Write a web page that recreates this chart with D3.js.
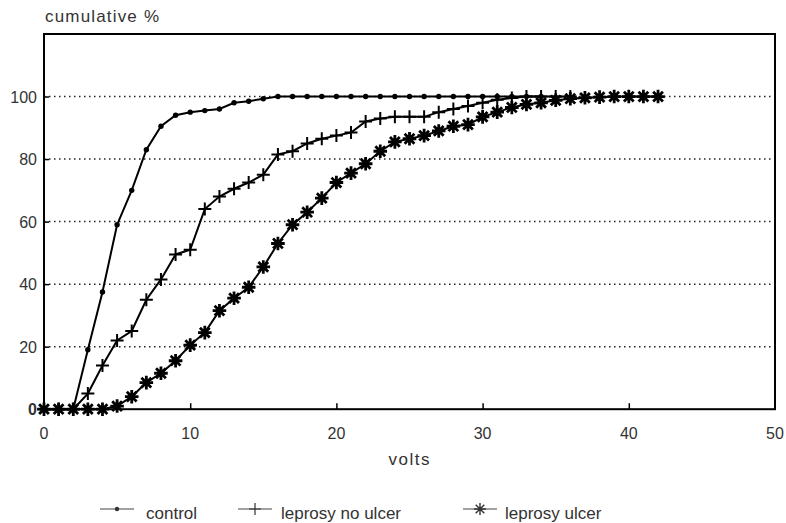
<!DOCTYPE html>
<html>
<head>
<meta charset="utf-8">
<script src="https://cdn.jsdelivr.net/npm/d3@7"></script>
<style>
  html, body { margin: 0; padding: 0; background: #fff; }
  svg text { font-family: "Liberation Sans", Arial, sans-serif; fill: #333; }
</style>
</head>
<body>
<svg id="chart" width="786" height="523"></svg>
<script>
// ---- data ----
const controlVolts = d3.range(0, 35);
const controlPct = [0,0,0,19,37.5,59,70,83,90.5,94,95,95.5,96,98,98.5,99.3,100,100,100,100,100,100,100,100,100,100,100,100,100,100,100,100,100,100,100];
const noUlcerVolts = d3.range(0, 37);
const noUlcerPct = [0,0,0,5,14,22,25,35,41.5,49.5,51,64,68,70.5,72.5,75,81.5,82.5,85,86.5,87.5,88.5,92,93,93.5,93.5,93.5,95,96,97,98,99,99.5,100,100,100,100];
const ulcerVolts = d3.range(0, 43);
const ulcerPct = [0,0,0,0,0,1,4,8.5,11.5,15.5,20.5,24.5,31.5,35.5,39,45.5,53,59,63,67.5,72.5,75.5,78.5,82.5,85.5,86.5,87.5,89,90.5,91,93.5,95,96.5,97.5,98,98.8,99.3,99.6,99.8,100,100,100,100];
const xTicks = [0,10,20,30,40,50];
const yTicks = [0,20,40,60,80,100];
const gridValues = [20,40,60,80,100];
const seriesNames = ["control","leprosy no ulcer","leprosy ulcer"];
const xLabel = "volts";
const yLabel = "cumulative %";

// ---- layout ----
const svg = d3.select("#chart");
const pLeft = 44, pRight = 775, pTop = 34, pBottom = 409.2;
const x = d3.scaleLinear().domain([0, 50]).range([pLeft, pRight]);
const y = d3.scaleLinear().domain([0, 120]).range([pBottom, pTop]);

// gridlines
svg.append("g").selectAll("line").data(gridValues).join("line")
  .attr("x1", pLeft).attr("x2", pRight)
  .attr("y1", d => y(d)).attr("y2", d => y(d))
  .attr("stroke", "#222").attr("stroke-width", 1.5)
  .attr("stroke-dasharray", "1.5,3.5");

// frame
svg.append("rect").attr("x", pLeft).attr("y", pTop)
  .attr("width", pRight - pLeft).attr("height", pBottom - pTop)
  .attr("fill", "none").attr("stroke", "#000").attr("stroke-width", 2);

// ticks (inward)
const xAxis = d3.axisTop(x).tickValues(xTicks.slice(1, -1)).tickSize(6).tickFormat("");
svg.append("g").attr("transform", `translate(0,${pBottom})`).call(xAxis)
  .call(g => g.select(".domain").remove())
  .call(g => g.selectAll("line").attr("stroke", "#000").attr("stroke-width", 1.5));
const yAxis = d3.axisRight(y).tickValues(gridValues).tickSize(5).tickFormat("");
svg.append("g").attr("transform", `translate(${pLeft},0)`).call(yAxis)
  .call(g => g.select(".domain").remove())
  .call(g => g.selectAll("line").attr("stroke", "#000").attr("stroke-width", 1.5));

// tick labels
svg.append("g").selectAll("text").data(xTicks).join("text")
  .attr("x", d => x(d)).attr("y", 439)
  .attr("text-anchor", "middle").attr("font-size", 16).text(d => d);
svg.append("g").selectAll("text").data(yTicks).join("text")
  .attr("x", 37).attr("y", d => y(d) + 6)
  .attr("text-anchor", "end").attr("font-size", 16)
  .attr("font-weight", d => d === 0 ? "bold" : null).text(d => d);

svg.append("text").attr("x", 409).attr("y", 465).attr("text-anchor", "middle")
  .attr("font-size", 17).attr("textLength", 41).attr("lengthAdjust", "spacing").text(xLabel);
svg.append("text").attr("x", 45).attr("y", 22)
  .attr("font-size", 17).attr("textLength", 114).attr("lengthAdjust", "spacing").text(yLabel);

// marker drawers
function drawDot(g, cx, cy, r, color) {
  g.append("circle").attr("cx", cx).attr("cy", cy).attr("r", r).attr("fill", color);
}
function drawPlus(g, cx, cy, s, color, w) {
  g.append("path").attr("d", `M${cx - s},${cy}H${cx + s}M${cx},${cy - s}V${cy + s}`)
    .attr("stroke", color).attr("stroke-width", w).attr("fill", "none");
}
function drawStar(g, cx, cy, s, color, w) {
  const d = s * 0.72;
  g.append("path").attr("d",
    `M${cx - s},${cy}H${cx + s}M${cx},${cy - s}V${cy + s}` +
    `M${cx - d},${cy - d}L${cx + d},${cy + d}M${cx - d},${cy + d}L${cx + d},${cy - d}`)
    .attr("stroke", color).attr("stroke-width", w).attr("fill", "none");
}

const line = d3.line().x(d => x(d[0])).y(d => y(d[1]));
const series = [
  { volts: controlVolts, pct: controlPct, marker: (g, cx, cy) => drawDot(g, cx, cy, 2.7, "#000") },
  { volts: noUlcerVolts, pct: noUlcerPct, marker: (g, cx, cy) => drawPlus(g, cx, cy, 6.5, "#000", 2) },
  { volts: ulcerVolts, pct: ulcerPct, marker: (g, cx, cy) => drawStar(g, cx, cy, 6.8, "#000", 2.8) }
];

// draw in reverse so control sits on top
[2, 1, 0].forEach(i => {
  const s = series[i];
  const pts = s.volts.map((v, j) => [v, s.pct[j]]);
  const g = svg.append("g");
  g.append("path").attr("d", line(pts)).attr("fill", "none")
    .attr("stroke", "#000").attr("stroke-width", 2);
  pts.forEach(p => s.marker(g, x(p[0]), y(p[1])));
});

// legend
const legendItems = [
  { lx: 100, tx: 146, draw: (g, cx, cy) => drawDot(g, cx, cy, 2.2, "#333") },
  { lx: 238, tx: 281, draw: (g, cx, cy) => drawPlus(g, cx, cy, 6, "#333", 1.2) },
  { lx: 463, tx: 505, draw: (g, cx, cy) => drawStar(g, cx, cy, 6, "#333", 1.4) }
];
const lg = svg.append("g");
legendItems.forEach((it, i) => {
  const ly = 509;
  lg.append("line").attr("x1", it.lx).attr("x2", it.lx + 34).attr("y1", ly).attr("y2", ly)
    .attr("stroke", "#444").attr("stroke-width", 1.2);
  it.draw(lg, it.lx + 17, ly);
  lg.append("text").attr("x", it.tx).attr("y", 519).attr("font-size", 17).text(seriesNames[i]);
});
</script>
</body>
</html>
